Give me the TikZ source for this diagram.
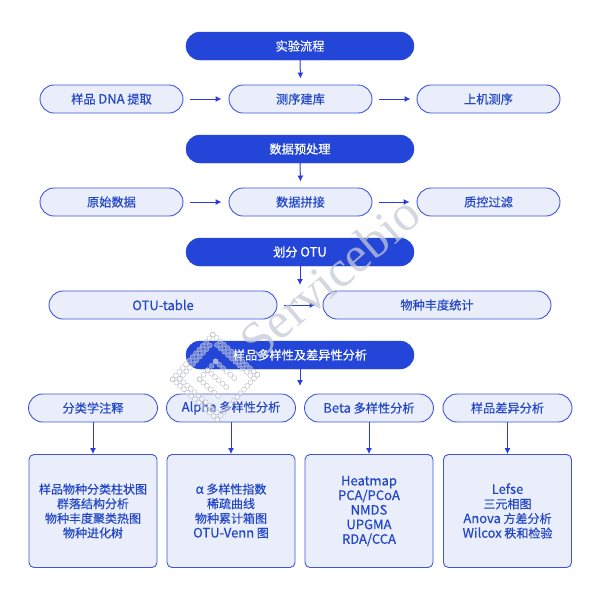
\documentclass[tikz,border=0pt]{standalone}
\usepackage{fontspec}
\setmainfont[UprightFont=*,BoldFont=* Bold,FakeBold=0.5]{Noto Sans CJK SC}
\newfontfamily\wmfont{Liberation Serif}
\usetikzlibrary{arrows.meta}
\newcommand{\lat}[1]{{\fontsize{13}{13}\selectfont #1}}
\definecolor{hdr}{HTML}{2446D8}
\definecolor{pale}{HTML}{EAEEFA}
\definecolor{edgeb}{HTML}{3F55DD}
\definecolor{arrowb}{HTML}{2A3CE0}
\definecolor{txtb}{HTML}{2347C7}
\definecolor{wm}{HTML}{C4CAD6}
\definecolor{wmdot}{HTML}{B8BCC4}
\tikzset{
 x=1pt,y=-1pt,
 headbox/.style={draw=hdr,fill=hdr,rounded corners=14pt,minimum width=228pt,minimum height=28pt,inner sep=0pt,text=white,font=\fontsize{12.2}{14}\selectfont},
 pill/.style={draw=edgeb,line width=.9pt,fill=pale,rounded corners=14pt,minimum width=143pt,minimum height=28pt,inner sep=0pt,text=txtb,font=\fontsize{12.2}{14}\selectfont},
 widepill/.style={pill,minimum width=228pt},
 colpill/.style={pill,minimum width=129pt},
 listbox/.style={draw=edgeb,line width=.9pt,fill=pale,rounded corners=5pt,minimum width=128pt,minimum height=113pt,inner sep=0pt,text=txtb,align=center,font=\fontsize{12}{14.6}\selectfont},
 link/.style={draw=arrowb,line width=1pt,-{Latex[length=6pt,width=6pt]}},
 dot/.style={draw=wmdot,line width=.4pt,fill=white,fill opacity=.35,circle,minimum size=5pt,inner sep=0pt},
}
\begin{document}
\begin{tikzpicture}
\useasboundingbox (0,0) rectangle (600,600);
\node[headbox] (h1) at (300,46) {实验流程};
\node[pill] (a1) at (111.5,99) {样品 \lat{DNA} 提取};
\node[pill] (a2) at (300.5,99) {测序建库};
\node[pill] (a3) at (488.5,99) {上机测序};
\node[headbox] (h2) at (300,149) {数据预处理};
\node[pill] (b1) at (111.5,202) {原始数据};
\node[pill] (b2) at (300.5,202) {数据拼接};
\node[pill] (b3) at (488.5,202) {质控过滤};
\node[headbox] (h3) at (300,252) {划分 \lat{OTU}};
\node[widepill] (c1) at (163,305) {\lat{OTU-table}};
\node[widepill] (c2) at (437,305) {物种丰度统计};
\node[headbox] (h4) at (300,355) {样品多样性及差异性分析};
\node[colpill] (d1) at (93,408) {分类学注释};
\node[colpill] (d2) at (231,408) {\lat{Alpha} 多样性分析};
\node[colpill] (d3) at (369,408) {\lat{Beta} 多样性分析};
\node[colpill] (d4) at (507.5,408) {样品差异分析};
\node[listbox] (e1) at (93,511) {样品物种分类柱状图\\群落结构分析\\物种丰度聚类热图\\物种进化树};
\node[listbox] (e2) at (231,511) {\lat{α} 多样性指数\\稀疏曲线\\物种累计箱图\\\lat{OTU-Venn} 图};
\node[listbox] (e3) at (369,511) {\lat{Heatmap}\\\lat{PCA/PCoA}\\\lat{NMDS}\\\lat{UPGMA}\\\lat{RDA/CCA}};
\node[listbox] (e4) at (507.5,511) {\lat{Lefse}\\三元相图\\\lat{Anova} 方差分析\\\lat{Wilcox} 秩和检验};
\draw[link] (h1.south) -- ([yshift=6pt]a2.north);
\draw[link] (h2.south) -- ([yshift=6pt]b2.north);
\draw[link] (h3.south) -- (300,285);
\draw[link] (h4.south) -- (300,386);
\draw[link] ([xshift=7pt]a1.east) -- ([xshift=-7pt]a2.west);
\draw[link] ([xshift=7pt]a2.east) -- ([xshift=-6pt]a3.west);
\draw[link] ([xshift=7pt]b1.east) -- ([xshift=-7pt]b2.west);
\draw[link] ([xshift=7pt]b2.east) -- ([xshift=-7pt]b3.west);
\draw[link] ([xshift=7pt]c1.east) -- ([xshift=-7pt]c2.west);
\foreach \i in {1,2,3,4}{\draw[link] (d\i) -- (e\i);}
% watermark
\node[rotate=40.5,text=wm,opacity=.75,font=\wmfont\fontsize{51}{51}\selectfont,anchor=center] (wmtext) at (330,277) {Servicebio};
\begin{scope}[shift={(215,377)},rotate=-42]
\foreach \a in {-6,...,6}{
 \node[dot] at (\a*5,-30) {};
 \node[dot] at (\a*5,30) {};
 \node[dot] at (-30,\a*5) {};
 \node[dot] at (30,\a*5) {};
}
\foreach \a in {-4,...,5}{
 \node[dot] at (\a*5,-25) {};
 \node[dot] at (-25,\a*5) {};
}
\foreach \a in {-5,...,5}{
 \node[dot] at (\a*5,25) {};
}
\foreach \a in {-2,...,3}{
 \node[dot] at (\a*5,-12) {};
 \node[dot] at (\a*5,0) {};
 \node[dot] at (\a*5,12) {};
}
\foreach \a in {-2,...,2}{
 \node[dot] at (-10,\a*6) {};
}
\end{scope}
\end{tikzpicture}
\end{document}
